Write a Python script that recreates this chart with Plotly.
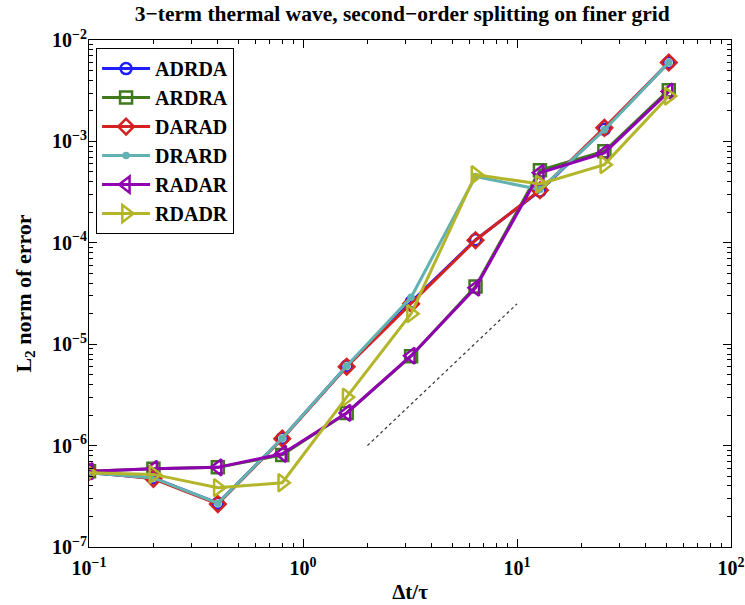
import plotly.graph_objects as go

dt = [0.1, 0.2, 0.4, 0.8, 1.6, 3.2, 6.4, 12.8, 25.6, 51.2]
names = ["ADRDA", "ARDRA", "DARAD", "DRARD", "RADAR", "RDADR"]
adrda = [5.4e-7, 4.8e-7, 2.7e-7, 1.18e-6, 6.1e-6, 2.6e-5, 1.07e-4, 3.25e-4, 1.32e-3, 6.0e-3]
ardra = [5.6e-7, 5.9e-7, 6.1e-7, 8.1e-7, 2.1e-6, 7.6e-6, 3.7e-5, 5.2e-4, 8.0e-4, 3.2e-3]
darad = [5.5e-7, 4.7e-7, 2.65e-7, 1.17e-6, 6.0e-6, 2.5e-5, 1.06e-4, 3.3e-4, 1.36e-3, 6.0e-3]
drard = [5.4e-7, 4.8e-7, 2.7e-7, 1.18e-6, 6.1e-6, 2.9e-5, 4.5e-4, 3.35e-4, 1.3e-3, 6.0e-3]
radar = [5.6e-7, 5.9e-7, 6.1e-7, 8.3e-7, 2.1e-6, 7.7e-6, 3.6e-5, 4.9e-4, 7.7e-4, 3.1e-3]
rdadr = [5.4e-7, 5.2e-7, 3.85e-7, 4.3e-7, 3.0e-6, 2.0e-5, 4.7e-4, 3.8e-4, 5.9e-4, 2.8e-3]
series = [adrda, ardra, darad, drard, radar, rdadr]
colors = ["#1f1fff", "#3f7a1f", "#d42222", "#62b2b2", "#9000b0", "#b3b52a"]
symbols = ["circle-open", "square-open", "diamond-open", "circle", "triangle-left-open", "triangle-right-open"]
msizes = [11, 12, 12, 5, 14, 15]

ref_x = [2, 10]
ref_y = [1e-6, 2.5e-5]

ydecades = [-7, -6, -5, -4, -3, -2]
xdecades = [-1, 0, 1, 2]
ytickvals = [10.0 ** d for d in ydecades]
yticktext = ["10<sup>%s</sup>" % str(d).replace("-", "−") for d in ydecades]
xtickvals = [10.0 ** d for d in xdecades]
xticktext = ["10<sup>%s</sup>" % str(d).replace("-", "−") for d in xdecades]
yminor = [m * 10.0 ** d for d in ydecades[:-1] for m in range(2, 10)]
xminor = [m * 10.0 ** d for d in xdecades[:-1] for m in range(2, 10)]

FONT = "Liberation Serif"

fig = go.Figure()
for n, s, c, sym, ms in zip(names, series, colors, symbols, msizes):
    fig.add_trace(go.Scatter(
        x=dt, y=s, name=n, mode="lines+markers",
        line=dict(color=c, width=3),
        marker=dict(symbol=sym, size=ms, color=c, line=dict(color=c, width=2.5)),
    ))

fig.add_trace(go.Scatter(
    x=ref_x, y=ref_y, mode="lines", showlegend=False,
    line=dict(color="#333333", width=1.2, dash="dot"),
))

# invisible trace for the mirrored (top/right) tick axes
fig.add_trace(go.Scatter(x=[dt[0]], y=[adrda[0]], xaxis="x2", yaxis="y2",
                         mode="markers", marker=dict(opacity=0), showlegend=False, hoverinfo="skip"))

tick_common = dict(
    type="log", showgrid=False, zeroline=False, automargin=False,
    showline=True, linecolor="black", linewidth=1,
    ticks="inside", ticklen=8, tickwidth=1, tickcolor="black",
)
tfont = dict(family=FONT, size=20, color="black", weight="bold")

def minor(vals):
    return dict(tickmode="array", tickvals=vals, ticks="inside", ticklen=4,
                tickwidth=1, tickcolor="black", showgrid=False)

fig.update_layout(
    xaxis=dict(**tick_common, range=[-1, 2], tickmode="array", tickvals=xtickvals, ticktext=xticktext,
               minor=minor(xminor), tickfont=tfont, ticklabelstandoff=3,
               title=dict(text="Δt/τ", font=dict(family=FONT, size=21, color="black", weight="bold"), standoff=6)),
    yaxis=dict(**tick_common, range=[-7, -2], tickmode="array", tickvals=ytickvals, ticktext=yticktext,
               minor=minor(yminor), tickfont=tfont, ticklabelstandoff=-3,
               title=dict(text="L<sub>2</sub> norm of error", font=dict(family=FONT, size=22, color="black", weight="bold"), standoff=14)),
    xaxis2=dict(**tick_common, range=[-1, 2], overlaying="x", side="top", anchor="y2",
                tickmode="array", tickvals=xtickvals, minor=minor(xminor), showticklabels=False),
    yaxis2=dict(**tick_common, range=[-7, -2], overlaying="y", side="right", anchor="x2",
                tickmode="array", tickvals=ytickvals, minor=minor(yminor), showticklabels=False),
)

fig.update_layout(
    width=745, height=605,
    margin=dict(l=89, r=14, t=40, b=58),
    paper_bgcolor="white", plot_bgcolor="white",
    title=dict(text="3−term thermal wave, second−order splitting on finer grid",
               x=0.54, xanchor="center", y=0.978, yanchor="middle",
               font=dict(family=FONT, size=21.5, color="black", weight="bold")),
    legend=dict(x=0.011, y=0.984, xanchor="left", yanchor="top",
                bgcolor="white", bordercolor="black", borderwidth=1,
                font=dict(family=FONT, size=20, color="black", weight="bold"),
                itemwidth=48, tracegroupgap=0),
    showlegend=True,
)

fig.write_html("out.html")
